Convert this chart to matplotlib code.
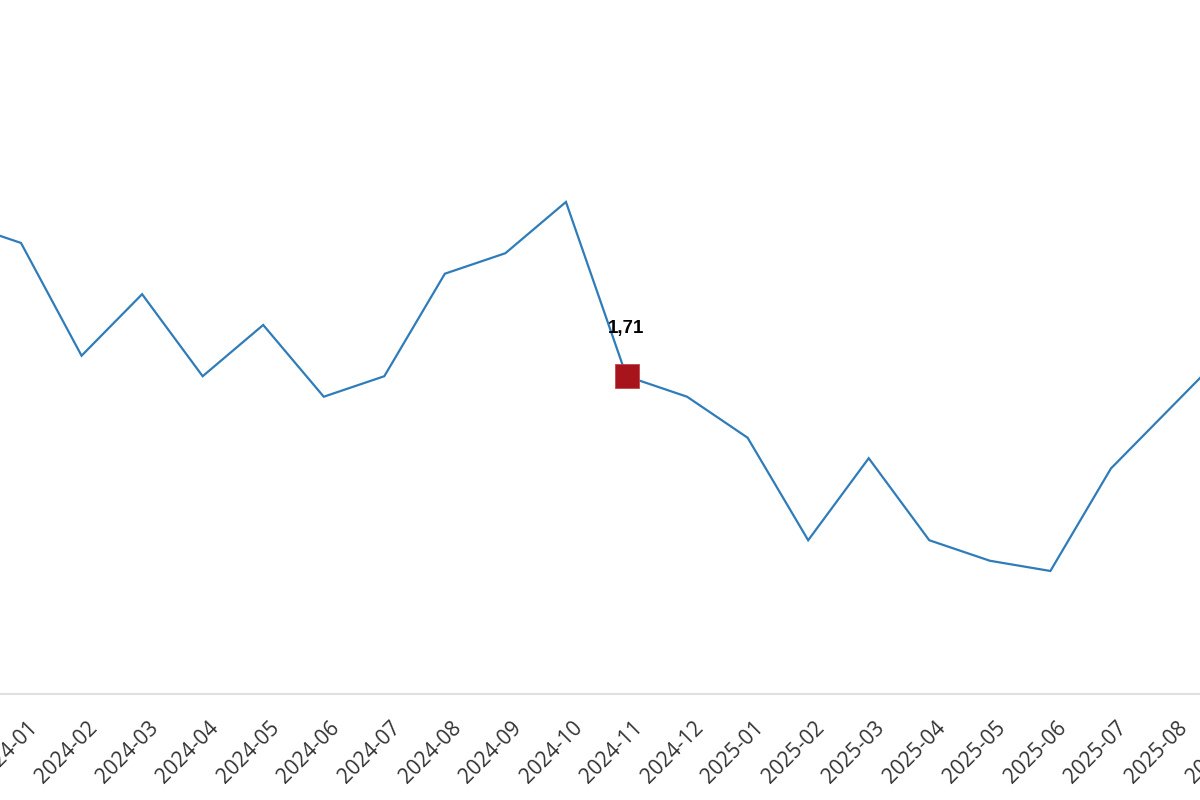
import matplotlib
matplotlib.use("Agg")
import matplotlib.pyplot as plt
import matplotlib.transforms as mtransforms
import numpy as np


MONTHS = [
    "2023-12", "2024-01", "2024-02", "2024-03", "2024-04", "2024-05",
    "2024-06", "2024-07", "2024-08", "2024-09", "2024-10", "2024-11",
    "2024-12", "2025-01", "2025-02", "2025-03", "2025-04", "2025-05",
    "2025-06", "2025-07", "2025-08", "2025-09",
]
VALUES = [
    1.86, 1.84, 1.73, 1.79, 1.71, 1.76,
    1.69, 1.71, 1.81, 1.83, 1.88, 1.71,
    1.69, 1.65, 1.55, 1.63, 1.55, 1.53,
    1.52, 1.62, 1.68, 1.74,
]
HIGHLIGHT = "2024-11"

LINE_COLOR = "#2f7cb9"
MARK_COLOR = "#a8141b"


def main():
    fig = plt.figure(figsize=(12, 8), dpi=100)
    ax = fig.add_axes([0, 106 / 800, 1, 694 / 800])

    x = np.arange(len(MONTHS))
    ax.plot(x, VALUES, color=LINE_COLOR, lw=1.6, solid_joinstyle="miter")

    hi = MONTHS.index(HIGHLIGHT)
    ax.plot(x[hi], VALUES[hi], marker="s", ms=17.5, color=MARK_COLOR,
            markeredgecolor="#c0474c", markeredgewidth=0.6, zorder=3)
    ax.annotate(f"{VALUES[hi]:.2f}".replace(".", ","), (x[hi], VALUES[hi]),
                xytext=(0, 34), textcoords="offset points", ha="center", va="center",
                fontsize=13.5, fontweight="bold", family="Liberation Sans", color="#000000")

    for side in ("top", "right", "left"):
        ax.spines[side].set_visible(False)
    ax.spines["bottom"].set_color("#e0e0e0")
    ax.spines["bottom"].set_linewidth(1.5)
    ax.set_yticks([])
    ax.set_xticks([])

    # month labels drawn by hand so the ones just past the edges still show in part
    offset = mtransforms.ScaledTranslation(13 / 100, -31 / 100, fig.dpi_scale_trans)
    trans = ax.get_xaxis_transform() + offset
    for xi, month in zip(x, MONTHS):
        ax.text(xi, 0, month, transform=trans, rotation=45, ha="right", va="center",
                rotation_mode="anchor", fontsize=15, family="Open Sans", color="#333333",
                clip_on=False)

    ax.set_xlim(0.6532, 20.471)
    ax.set_ylim(1.40, 2.077)

    fig.savefig("out.png", dpi=100, facecolor="white")
    plt.close(fig)


if __name__ == "__main__":
    main()
